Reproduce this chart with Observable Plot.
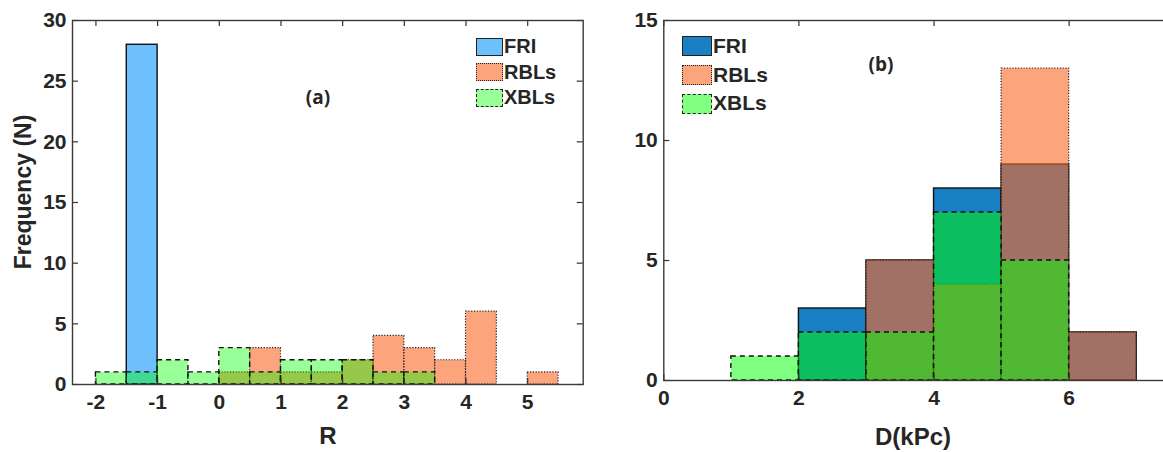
<!DOCTYPE html>
<html><head><meta charset="utf-8">
<script src="https://cdn.jsdelivr.net/npm/d3@7"></script>
<script src="https://cdn.jsdelivr.net/npm/@observablehq/plot@0.6"></script>
<style>
html,body{margin:0;padding:0;background:#fff;overflow:hidden;}
#wrap{position:relative;width:1163px;height:452px;overflow:hidden;font-family:"Liberation Sans",Arial,sans-serif;font-weight:bold;color:#262626;}
#wrap svg text{font-size:21px !important;font-weight:bold !important;font-family:"Liberation Sans",Arial,sans-serif !important;fill:#262626;}
.abs{position:absolute;white-space:nowrap;}
.leg{position:absolute;display:flex;flex-direction:column;}
.row{display:flex;align-items:center;}
.sw{box-sizing:border-box;}
</style></head>
<body><div id="wrap"></div>
<script>
// ---------- Panel (a): R ----------
const binLeftA = [-2,-1.5,-1,-0.5,0,0.5,1,1.5,2,2.5,3,3.5,4,4.5,5];
const binWidthA = 0.5;
const friA = [0,28,0,0,0,0,0,0,0,0,0,0,0,0,0];
const rblA = [0,0,0,0,1,3,1,1,2,4,3,2,6,0,1];
const xblA = [1,1,2,1,3,1,2,2,2,1,1,0,0,0,0];
const xTicksA = [-2,-1,0,1,2,3,4,5];
const yTicksA = [0,5,10,15,20,25,30];

// ---------- Panel (b): D(kPc) ----------
const binLeftB = [0,1,2,3,4,5,6];
const binWidthB = 1;
const friB = [0,0,3,5,8,9,2];
const rblB = [0,0,0,5,4,13,2];
const xblB = [0,1,2,2,7,5,0];
const xTicksB = [0,2,4,6];
const yTicksB = [0,5,10,15];

const seriesNames = ["FRI","RBLs","XBLs"];

function bins(left, w, counts){
  return left.map((x,i)=>({x0:x, x1:x+w, n:counts[i]})).filter(d=>d.n>0);
}

const wrap = document.getElementById("wrap");
const font = {fontFamily:'"Liberation Sans", Arial, sans-serif', fontSize:"21px", fontWeight:"bold", color:"#262626", background:"transparent"};

function panel(cfg){
  const innerH = cfg.height - cfg.mt - cfg.mb;
  const innerW = cfg.width - cfg.ml - cfg.mr;
  const st = cfg.styles;
  const marks = [];
  cfg.series.forEach((s,i)=>{
    marks.push(Plot.rectY(bins(cfg.left, cfg.bw, s), {
      x1:"x0", x2:"x1", y:"n",
      fill: st[i].fill, fillOpacity: st[i].op,
      stroke: st[i].stroke, strokeWidth: st[i].sw, strokeDasharray: st[i].dash
    }));
  });
  const tk = "#333";
  marks.push(
    Plot.ruleX(cfg.xt, {x:d=>d, insetTop: innerH-6, stroke:tk, strokeWidth:1.2}),
    Plot.ruleX(cfg.xt, {x:d=>d, insetBottom: innerH-6, stroke:tk, strokeWidth:1.2}),
    Plot.ruleY(cfg.yt, {y:d=>d, insetRight: innerW-6, stroke:tk, strokeWidth:1.2}),
    Plot.ruleY(cfg.yt, {y:d=>d, insetLeft: innerW-6, stroke:tk, strokeWidth:1.2}),
    Plot.axisX({ticks: cfg.xt, tickSize:0, tickPadding:10, label:null, tickFormat:d=>String(d)}),
    Plot.axisY({ticks: cfg.yt, tickSize:0, tickPadding:6, label:null, tickFormat:d=>String(d)}),
    Plot.frame({stroke:"#3a3a3a", strokeWidth:1.4})
  );
  const svg = Plot.plot({
    width: cfg.width, height: cfg.height,
    marginLeft: cfg.ml, marginRight: cfg.mr, marginTop: cfg.mt, marginBottom: cfg.mb,
    x: {domain: cfg.xd},
    y: {domain: cfg.yd},
    style: font,
    marks
  });
  svg.style.position = "absolute";
  svg.style.left = cfg.left0 + "px";
  svg.style.top = "0px";
  svg.style.overflow = "hidden";
  wrap.appendChild(svg);
}

const stylesA = [
  {fill:"#6ec0fc", op:1, stroke:"#111", sw:1.4, dash:null},
  {fill:"rgb(250,103,37)", op:0.6, stroke:"#222", sw:1.2, dash:"1.2,1.6"},
  {fill:"rgb(0,255,0)", op:0.4, stroke:"#111", sw:1.4, dash:"5,4"}
];
const stylesB = [
  {fill:"rgb(0,114,189)", op:0.9, stroke:"#111", sw:1.4, dash:null},
  {fill:"rgb(250,103,37)", op:0.6, stroke:"#222", sw:1.2, dash:"1.2,1.6"},
  {fill:"rgb(0,255,0)", op:0.5, stroke:"#111", sw:1.4, dash:"5,4"}
];

panel({left0:0, width:600, height:452, ml:72, mr:17.3, mt:20, mb:68,
  xd:[-2.38,5.9], yd:[0,30], left:binLeftA, bw:binWidthA,
  series:[friA, rblA, xblA], styles:stylesA, xt:xTicksA, yt:yTicksA});
panel({left0:600, width:570, height:452, ml:63.3, mr:0, mt:20, mb:72,
  xd:[0,7.5], yd:[0,15], left:binLeftB, bw:binWidthB,
  series:[friB, rblB, xblB], styles:stylesB, xt:xTicksB, yt:yTicksB});

// ---------- text annotations ----------
function txt(s, css){
  const d = document.createElement("div");
  d.className = "abs"; d.textContent = s;
  Object.assign(d.style, css);
  wrap.appendChild(d);
  return d;
}
txt("Frequency (N)", {left:"23px", top:"192px", fontSize:"23px", transform:"translate(-50%,-50%) rotate(-90deg)"});
txt("R", {left:"328px", top:"436px", fontSize:"24px", transform:"translate(-50%,-50%)"});
txt("D(kPc)", {left:"913px", top:"437px", fontSize:"24px", transform:"translate(-50%,-50%)"});
txt("(a)", {left:"318px", top:"97px", fontSize:"19px", fontFamily:'"Open Sans", sans-serif', transform:"translate(-50%,-50%)"});
txt("(b)", {left:"881px", top:"64px", fontSize:"19px", fontFamily:'"Open Sans", sans-serif', transform:"translate(-50%,-50%)"});

function legend(x, y, rowH, swW, swH, fs, styles){
  const L = document.createElement("div");
  L.className = "leg";
  Object.assign(L.style, {left:x+"px", top:y+"px"});
  seriesNames.forEach((name,i)=>{
    const r = document.createElement("div"); r.className="row"; r.style.height=rowH+"px";
    const sw = document.createElement("div"); sw.className="sw";
    const s = styles[i];
    const bs = s.dash ? (s.dash.startsWith("5") ? "dashed" : "dotted") : "solid";
    Object.assign(sw.style, {width:swW+"px", height:swH+"px", border:`1.5px ${bs} #222`});
    const c = d3.rgb(s.fill);
    const a = s.op;
    sw.style.background = d3.rgb(c.r*a+255*(1-a), c.g*a+255*(1-a), c.b*a+255*(1-a)).formatRgb();
    const t = document.createElement("span"); t.textContent = name;
    Object.assign(t.style, {fontSize:fs+"px", marginLeft:"1px", lineHeight:rowH+"px"});
    r.appendChild(sw); r.appendChild(t); L.appendChild(r);
  });
  wrap.appendChild(L);
}
legend(476, 34, 25.5, 27, 18, 20, stylesA);
legend(682, 32, 28.7, 30, 20, 21, stylesB);
</script></body></html>
